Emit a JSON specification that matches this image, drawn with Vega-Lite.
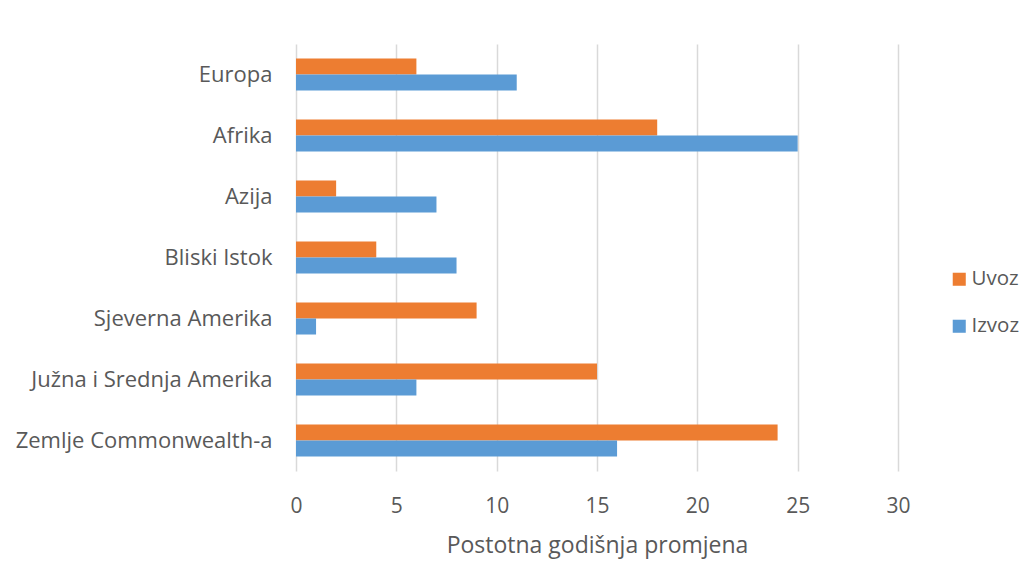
{
  "$schema": "https://vega.github.io/schema/vega-lite/v6.json",
  "autosize": "none",
  "width": 602,
  "height": 427,
  "padding": {"left": 296, "top": 44, "right": 136, "bottom": 109},
  "background": "white",
  "config": {
    "view": {"stroke": null},
    "font": "Open Sans",
    "axis": {"labelColor": "#595959", "titleColor": "#595959", "labelFont": "Open Sans", "titleFont": "Open Sans"},
    "legend": {"labelFont": "Open Sans"}
  },
  "data": {
    "values": [
      {"region": "Europa", "series": "Uvoz", "value": 6},
      {"region": "Europa", "series": "Izvoz", "value": 11},
      {"region": "Afrika", "series": "Uvoz", "value": 18},
      {"region": "Afrika", "series": "Izvoz", "value": 25},
      {"region": "Azija", "series": "Uvoz", "value": 2},
      {"region": "Azija", "series": "Izvoz", "value": 7},
      {"region": "Bliski Istok", "series": "Uvoz", "value": 4},
      {"region": "Bliski Istok", "series": "Izvoz", "value": 8},
      {"region": "Sjeverna Amerika", "series": "Uvoz", "value": 9},
      {"region": "Sjeverna Amerika", "series": "Izvoz", "value": 1},
      {"region": "Južna i Srednja Amerika", "series": "Uvoz", "value": 15},
      {"region": "Južna i Srednja Amerika", "series": "Izvoz", "value": 6},
      {"region": "Zemlje Commonwealth-a", "series": "Uvoz", "value": 24},
      {"region": "Zemlje Commonwealth-a", "series": "Izvoz", "value": 16}
    ]
  },
  "mark": {"type": "bar"},
  "encoding": {
    "y": {
      "field": "region",
      "type": "nominal",
      "sort": ["Europa", "Afrika", "Azija", "Bliski Istok", "Sjeverna Amerika", "Južna i Srednja Amerika", "Zemlje Commonwealth-a"],
      "scale": {"paddingInner": 0.475, "paddingOuter": 0.2375},
      "axis": {"title": null, "domain": false, "ticks": false, "labelFontSize": 22, "labelPadding": 24, "labelLimit": 300}
    },
    "yOffset": {
      "field": "series",
      "type": "nominal",
      "sort": ["Uvoz", "Izvoz"],
      "scale": {"paddingInner": 0, "paddingOuter": 0}
    },
    "x": {
      "field": "value",
      "type": "quantitative",
      "scale": {"domain": [0, 30], "nice": false},
      "axis": {
        "title": "Postotna godišnja promjena",
        "values": [0, 5, 10, 15, 20, 25, 30],
        "domain": false,
        "ticks": false,
        "grid": true,
        "gridColor": "#d9d9d9",
        "gridWidth": 1.5,
        "labelFontSize": 21,
        "labelFlush": false,
        "labelPadding": 24,
        "titleFontSize": 23,
        "titleFontWeight": "normal",
        "titlePadding": 18
      }
    },
    "color": {
      "field": "series",
      "type": "nominal",
      "sort": ["Uvoz", "Izvoz"],
      "scale": {"domain": ["Uvoz", "Izvoz"], "range": ["#ed7d31", "#5b9bd5"]},
      "legend": {
        "title": null,
        "orient": "none",
        "legendX": 653,
        "legendY": 225,
        "symbolType": "square",
        "symbolSize": 170,
        "symbolStrokeWidth": 0,
        "symbolOpacity": 1,
        "labelFontSize": 20.5,
        "labelColor": "#595959",
        "rowPadding": 26,
        "labelOffset": 2
      }
    }
  }
}
